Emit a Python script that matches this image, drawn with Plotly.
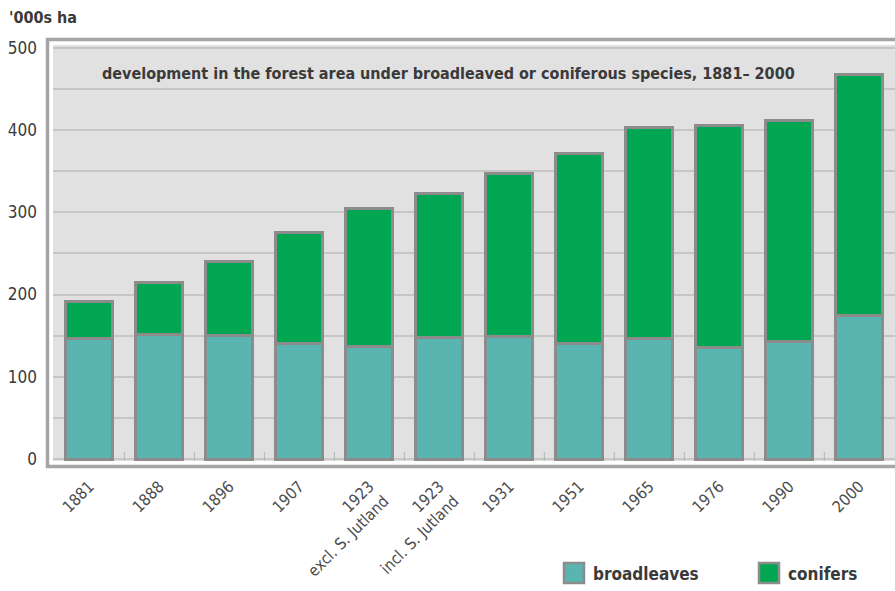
import plotly.graph_objects as go

# Forest area by species group, thousand hectares
categories = ["1881", "1888", "1896", "1907", "1923<br>excl. S. Jutland",
              "1923<br>incl. S. Jutland", "1931", "1951", "1965", "1976", "1990", "2000"]
totals = [192, 215, 240, 275, 304, 323, 347, 371, 403, 406, 411, 467]
broadleaves = [147, 151, 150, 141, 137, 148, 149, 140, 147, 136, 143, 174]
conifers = [t - b for t, b in zip(totals, broadleaves)]

y_tickvals = [0, 100, 200, 300, 400, 500]

TEAL = "#5ab5b0"
GREEN = "#00a651"
EDGE = "#8c8c8c"
FRAME = "#a5a5a8"
FONT = "Liberation Sans Narrow, DejaVu Sans Condensed, Arial Narrow, sans-serif"

W, H = 895, 591
ML, MR, MT, MB = 53, 0, 45, 130
pw, ph = W - ML - MR, H - MT - MB


def px_x(p):
    return (p - ML) / pw


def px_y(p):
    return (H - MB - p) / ph


x = list(range(len(categories)))

fig = go.Figure()
fig.add_trace(go.Bar(x=x, y=broadleaves, name="broadleaves", width=0.67,
                     marker=dict(color=TEAL, line=dict(color=EDGE, width=3))))
fig.add_trace(go.Bar(x=x, y=conifers, name="conifers", width=0.67,
                     marker=dict(color=GREEN, line=dict(color=EDGE, width=3))))

fig.update_layout(
    width=W, height=H,
    margin=dict(l=ML, r=MR, t=MT, b=MB),
    barmode="stack",
    showlegend=False,
    paper_bgcolor="white",
    plot_bgcolor="#e1e1e1",
    font=dict(family=FONT, color="#3a3a3a"),
)

fig.update_xaxes(
    range=[-0.52, 11.51],
    tickvals=x, ticktext=categories,
    tickangle=-45,
    tickfont=dict(size=16, color="#4d4d4d"),
    ticklabelstandoff=12,
    showgrid=False, zeroline=False, showline=False,
)
# boundary tick marks between categories
fig.add_trace(go.Scatter(x=[i + 0.5 for i in range(len(categories) - 1)],
                         y=[0] * (len(categories) - 1),
                         mode="markers", hoverinfo="skip", showlegend=False,
                         marker=dict(symbol="line-ns", size=10,
                                     line=dict(color="#b4b4b4", width=1)),
                         cliponaxis=True))

fig.update_yaxes(
    range=[-2.4, 503.3],
    tickvals=y_tickvals,
    tickfont=dict(size=17, color="#3a3a3a"),
    ticklabelstandoff=15,
    showgrid=True, gridcolor="#c6c6c6", gridwidth=1.5,
    minor=dict(dtick=50, tick0=0, showgrid=True, gridcolor="#c6c6c6", gridwidth=1.5),
    zeroline=False, showline=False,
)

# double frame: grey border with a white gap around the plot area
fig.add_shape(type="rect", xref="paper", yref="paper", layer="above",
              x0=px_x(47.5), x1=px_x(900), y0=px_y(466.5), y1=px_y(39.5),
              line=dict(color=FRAME, width=3.5))

fig.add_annotation(text="<b>'000s ha</b>", xref="paper", yref="paper",
                   x=px_x(7), y=px_y(17), xanchor="left", yanchor="middle",
                   showarrow=False, font=dict(size=16, color="#3a3a3a"))
fig.add_annotation(text="<b>development in the forest area under broadleaved or coniferous species, 1881\u2013 2000</b>",
                   xref="paper", yref="paper", x=px_x(100), y=px_y(73),
                   xanchor="left", yanchor="middle", showarrow=False,
                   font=dict(size=16, color="#3a3a3a"))

# legend swatches and labels
for x0, label, col in [(563, "broadleaves", TEAL), (758, "conifers", GREEN)]:
    fig.add_shape(type="rect", xref="paper", yref="paper",
                  x0=px_x(x0 + 1), x1=px_x(x0 + 21), y0=px_y(583), y1=px_y(563),
                  fillcolor=col, line=dict(color=EDGE, width=2.5))
    fig.add_annotation(text="<b>" + label + "</b>", xref="paper", yref="paper",
                       x=px_x(x0 + 28), y=px_y(574), xanchor="left", yanchor="middle",
                       showarrow=False, font=dict(size=17, color="#3a3a3a"))

fig.write_html("out.html")
